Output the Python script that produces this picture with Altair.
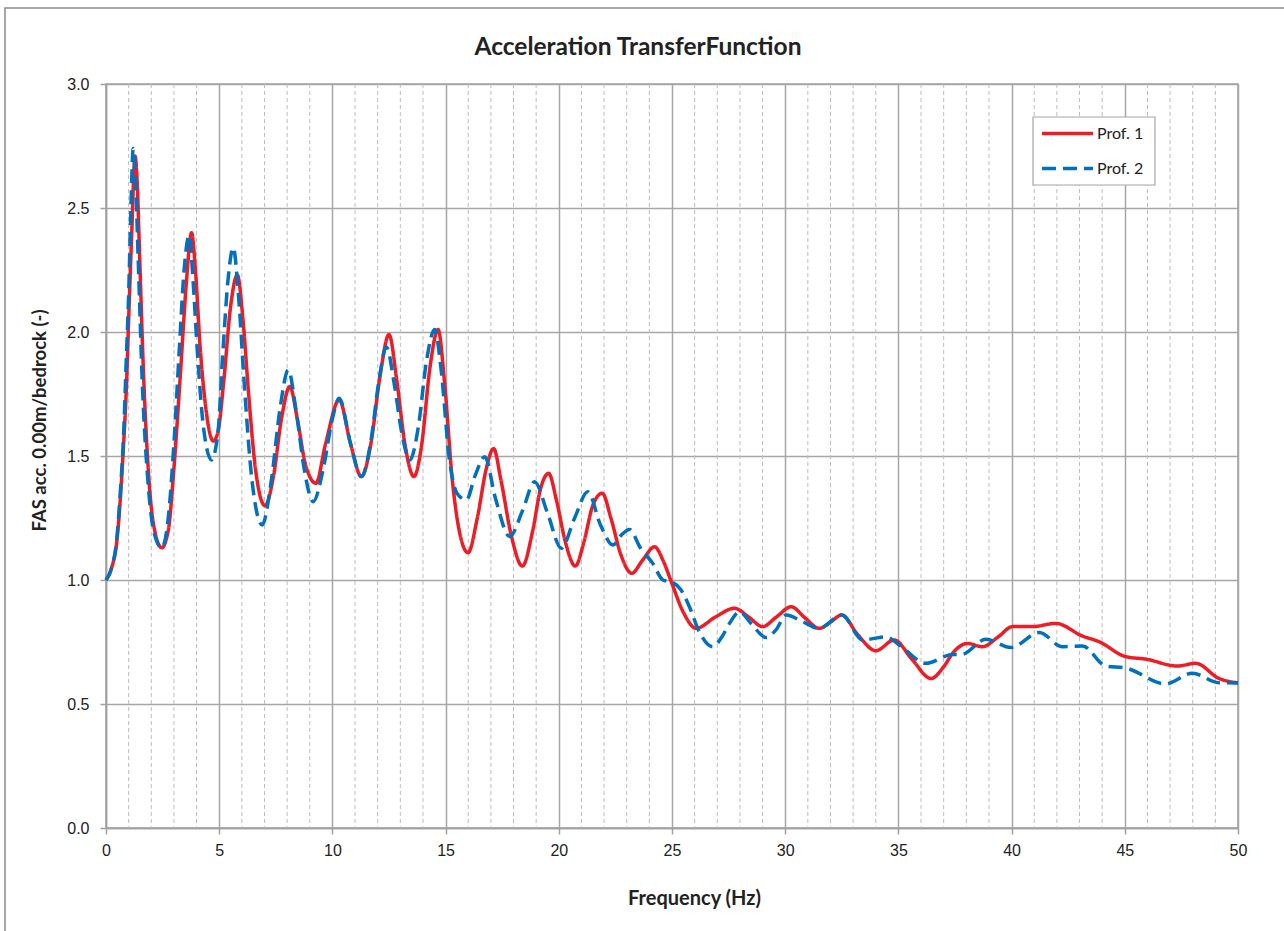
import altair as alt
import pandas as pd

# Frequency (Hz) / amplitude pairs for each profile
prof1_freq = [0, 0.25, 0.47, 0.65, 0.76, 0.91, 1.0, 1.13, 1.28, 1.38, 1.47, 1.65, 1.9, 2.15, 2.46,
              2.75, 3.0, 3.3, 3.55, 3.78, 3.95, 4.15, 4.4, 4.74, 4.95, 5.2, 5.5, 5.8, 6.05, 6.3,
              6.6, 7.02, 7.4, 7.75, 8.12, 8.45, 8.8, 9.27, 9.7, 10.3, 10.8, 11.28, 11.7, 12.1,
              12.5, 12.85, 13.2, 13.6, 13.95, 14.3, 14.67, 14.95, 15.3, 15.6, 15.99, 16.4, 16.8,
              17.12, 17.45, 17.9, 18.39, 18.85, 19.2, 19.55, 19.9, 20.3, 20.73, 21.1, 21.5,
              21.92, 22.3, 22.75, 23.22, 23.7, 24.23, 24.6, 24.96, 25.5, 26.07, 26.9, 27.76,
              28.4, 29.0, 29.6, 30.26, 30.9, 31.5, 32.0, 32.5, 33.2, 34.0, 34.82, 35.6, 36.44,
              37.0, 37.39, 38.05, 38.71, 39.4, 40.04, 40.92, 41.95, 43.13, 43.87, 45.04, 45.93,
              47.32, 48.13, 49.16, 50.0]
prof1_amp = [1.0, 1.05, 1.15, 1.35, 1.52, 1.8, 2.05, 2.38, 2.71, 2.6, 2.35, 1.85, 1.4, 1.2, 1.13,
             1.2, 1.45, 1.85, 2.2, 2.40, 2.25, 1.95, 1.7, 1.56, 1.6, 1.8, 2.1, 2.23, 2.05, 1.75,
             1.45, 1.30, 1.42, 1.65, 1.78, 1.65, 1.47, 1.39, 1.55, 1.726, 1.55, 1.417, 1.55, 1.82,
             1.99, 1.8, 1.55, 1.417, 1.55, 1.85, 2.01, 1.8, 1.4, 1.2, 1.11, 1.25, 1.45,
             1.53, 1.4, 1.18, 1.056, 1.2, 1.37, 1.43, 1.32, 1.15, 1.056, 1.15, 1.3,
             1.35, 1.25, 1.1, 1.027, 1.08, 1.134, 1.08, 0.995, 0.87, 0.805, 0.85, 0.886,
             0.85, 0.812, 0.85, 0.892, 0.845, 0.805, 0.83, 0.859, 0.78, 0.715, 0.758, 0.68, 0.603,
             0.65, 0.704, 0.744, 0.731, 0.77, 0.812, 0.812, 0.825, 0.774, 0.751, 0.691, 0.681,
             0.653, 0.664, 0.603, 0.585]

prof2_freq = [0, 0.25, 0.47, 0.65, 0.76, 0.9, 1.0, 1.1, 1.2, 1.3, 1.42, 1.6, 1.85, 2.1, 2.46,
              2.75, 3.0, 3.25, 3.45, 3.68, 3.85, 4.05, 4.3, 4.66, 4.95, 5.15, 5.4, 5.62, 5.85,
              6.1, 6.45, 6.9, 7.3, 7.7, 8.05, 8.4, 8.75, 9.15, 9.6, 10.0, 10.3, 10.8, 11.28,
              11.7, 12.05, 12.38, 12.75, 13.05, 13.42, 13.8, 14.15, 14.52, 14.8, 15.15, 15.5,
              15.92, 16.3, 16.73, 17.2, 17.83, 18.4, 18.93, 19.5, 20.11, 20.7, 21.28, 21.85,
              22.39, 22.75, 23.12, 23.6, 24.15, 24.6, 25.03, 25.4, 25.77, 26.21, 26.8, 27.2,
              27.54, 27.98, 28.49, 29.16, 29.6, 30.04, 30.77, 31.5, 32.5, 33.42, 34.45, 35.04,
              36.22, 37.39, 37.8, 38.86, 39.97, 41.22, 42.25, 43.13, 44.16, 45.04, 46.81, 47.98,
              49.16, 50.0]
prof2_amp = [1.0, 1.05, 1.16, 1.38, 1.55, 1.9, 2.15, 2.5, 2.74, 2.62, 2.3, 1.8, 1.4, 1.2, 1.13,
             1.25, 1.55, 1.95, 2.25, 2.39, 2.2, 1.9, 1.62, 1.484, 1.6, 1.9, 2.22, 2.34, 2.15,
             1.8, 1.4, 1.222, 1.4, 1.7, 1.847, 1.68, 1.45, 1.316, 1.45, 1.65, 1.733, 1.55, 1.417,
             1.56, 1.8, 1.94, 1.78, 1.6, 1.484, 1.62, 1.88, 2.01, 1.85, 1.5, 1.35,
             1.323, 1.42, 1.497, 1.33, 1.175, 1.28, 1.396, 1.27, 1.128, 1.25, 1.356, 1.22,
             1.141, 1.18, 1.204, 1.13, 1.067, 1.0, 0.99, 0.96, 0.892, 0.79, 0.731, 0.77,
             0.825, 0.872, 0.825, 0.768, 0.8, 0.859, 0.832, 0.805, 0.859, 0.758, 0.771, 0.738,
             0.664, 0.70, 0.70, 0.761, 0.728, 0.788, 0.731, 0.734, 0.653, 0.645, 0.581, 0.624,
             0.586, 0.585]

series_names = ["Prof. 1", "Prof. 2"]
series_colors = ["#ee1c25", "#0070c0"]
series_dashes = [[1, 0], [14, 7]]

major_ticks = [0, 5, 10, 15, 20, 25, 30, 35, 40, 45, 50]
minor_ticks = [f for f in range(1, 50) if f % 5 != 0]
y_ticks = [0.0, 0.5, 1.0, 1.5, 2.0, 2.5, 3.0]

chart_title = "Acceleration TransferFunction"

curves = pd.concat([
    pd.DataFrame({"freq": prof1_freq, "amp": prof1_amp, "series": series_names[0], "order": range(len(prof1_freq))}),
    pd.DataFrame({"freq": prof2_freq, "amp": prof2_amp, "series": series_names[1], "order": range(len(prof2_freq))}),
], ignore_index=True)

x_scale = alt.Scale(domain=[0, 50], nice=False, zero=False)
y_scale = alt.Scale(domain=[0, 3], nice=False)
color_scale = alt.Scale(domain=series_names, range=series_colors)
dash_scale = alt.Scale(domain=series_names, range=series_dashes)

W, H = 1132, 744
one = pd.DataFrame({"k": [0]})

# outer chart frame
frame = alt.Chart(one).mark_rect(
    fill=None, stroke="#8c8c8c", strokeWidth=1.5
).encode(
    x=alt.value(-101), x2=alt.value(W + 100), y=alt.value(-76), y2=alt.value(H + 120)
)

title = alt.Chart(one).mark_text(
    text=chart_title, font="Lato", fontSize=24.5, fontWeight="bold", color="#222222",
    align="center", baseline="alphabetic"
).encode(x=alt.value(532), y=alt.value(-29))

# dashed minor gridlines every 1 Hz
minor = alt.Chart(pd.DataFrame({"f": minor_ticks})).mark_rule(
    color="#bdbdbd", strokeWidth=1, strokeDash=[4, 3]
).encode(x=alt.X("f:Q", scale=x_scale))

lines = alt.Chart(curves).mark_line(
    strokeWidth=3.5, interpolate="monotone"
).encode(
    x=alt.X("freq:Q", scale=x_scale,
            axis=alt.Axis(values=major_ticks, title="Frequency (Hz)", format="d", labelFlush=False,
                          titleX=588, titleY=60, titleAnchor="middle", titleFontSize=20)),
    y=alt.Y("amp:Q", scale=y_scale,
            axis=alt.Axis(values=y_ticks, format=".1f", title="FAS acc. 0.00m/bedrock  (-)",
                          labelFlush=False,
                          titleX=-57, titleY=336, titleAnchor="middle", titleFontSize=18.5)),
    color=alt.Color("series:N", scale=color_scale, legend=None),
    strokeDash=alt.StrokeDash("series:N", scale=dash_scale, legend=None),
    order="order:Q",
)

# legend box with a line sample and name per series
legend_df = pd.DataFrame({"series": series_names, "row": [0, 1]})
leg_box = alt.Chart(one).mark_rect(
    fill="white", stroke="#a6a6a6", strokeWidth=1.2
).encode(x=alt.value(927), x2=alt.value(1049), y=alt.value(33), y2=alt.value(101))

leg_row = alt.Scale(domain=[0, 1], range=[49.5, 84.5])
leg_lines = alt.Chart(legend_df).mark_rule(strokeWidth=3.5).encode(
    x=alt.value(936), x2=alt.value(987),
    y=alt.Y("row:Q", scale=leg_row, axis=None),
    color=alt.Color("series:N", scale=color_scale, legend=None),
    strokeDash=alt.StrokeDash("series:N", scale=dash_scale, legend=None),
)
leg_text = alt.Chart(legend_df).mark_text(
    font="Lato", fontSize=16, color="#222222", align="left", baseline="middle"
).encode(
    x=alt.value(991),
    y=alt.Y("row:Q", scale=leg_row, axis=None),
    text="series:N",
)
legend = alt.layer(leg_box, leg_lines, leg_text)

chart = alt.layer(frame, title, minor, lines, legend).resolve_scale(
    y="independent"
).properties(
    width=W, height=H,
    autosize=alt.AutoSizeParams(type="none"),
    padding={"left": 106, "top": 84, "right": 46, "bottom": 103},
).configure_view(
    stroke="#a0a0a0", strokeWidth=1.5
).configure_axis(
    grid=True, gridColor="#a6a6a6", gridWidth=1.5,
    domainColor="#a0a0a0", domainWidth=1.5,
    tickColor="#a0a0a0", tickWidth=1.5, tickSize=6,
    labelFont="Liberation Sans", labelFontSize=16, labelColor="#222222",
    titleFont="Lato", titleFontSize=18, titleFontWeight="bold", titleColor="#222222",
).configure_axisX(
    labelPadding=8
).configure_axisY(
    labelPadding=11
)

chart.save("out.html", embed_options={"renderer": "svg", "actions": False})
